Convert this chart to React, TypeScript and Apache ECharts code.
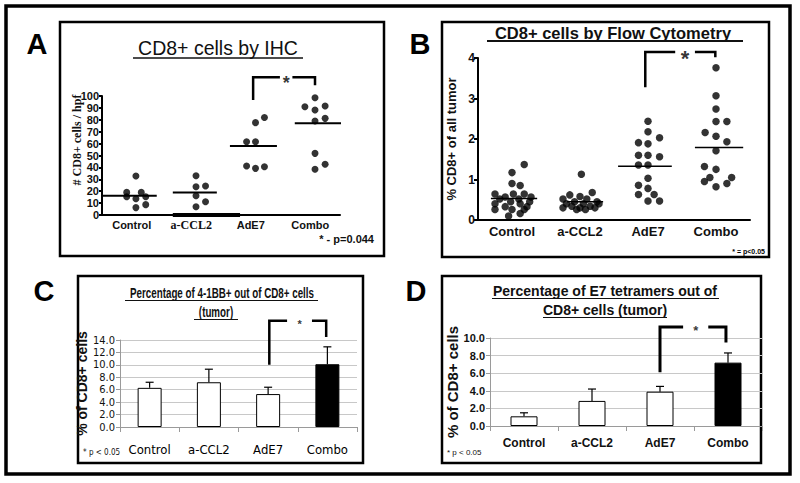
import React, { useEffect, useRef } from 'react';
import * as echarts from 'echarts';

// ---------- DATA ----------
const categories = ['Control', 'a-CCL2', 'AdE7', 'Combo'];

// Panel A: CD8+ cells by IHC — [horizontal jitter (category units), cells / hpf]
const ihcControl = [[0.07, 32.8], [-0.085, 19], [0.16, 19], [-0.085, 15.4], [0.07, 13.7], [0.235, 15.4], [0.07, 6.2], [0.235, 8.7]];
const ihcAntiCCL2 = [[0.08, 33], [0.08, 23.8], [0.24, 24.4], [0.08, 16.2], [0.24, 11.2], [0.08, 7]];
const ihcAdE7 = [[0.08, 77.6], [0.23, 82], [-0.07, 61.6], [0.08, 61.6], [-0.07, 41.2], [0.08, 39.2], [0.23, 40.6]];
const ihcCombo = [[0.08, 98.6], [-0.09, 91], [0.08, 88.2], [0.25, 91.6], [0.08, 79], [0.25, 81.2], [0.08, 51.8], [0.25, 42.6], [0.08, 38.4]];
const ihcMedians = [16.2, 19, 58, 77];
const ihcTicks = [0, 10, 20, 30, 40, 50, 60, 70, 80, 90, 100];
const ihcBracket = [96.6, 115.7, 109]; // AdE7 vs Combo: left foot, top, right foot

// Panel B: CD8+ cells by flow cytometry — [jitter, % of all tumor]
const flowControl = [[0.18, 1.37], [0.0, 1.17], [0.0, 0.9], [0.12, 0.85], [-0.25, 0.64], [0.02, 0.64], [0.18, 0.64], [-0.1, 0.57], [0.28, 0.57], [-0.18, 0.52], [0.1, 0.52], [-0.02, 0.45], [0.26, 0.45], [-0.25, 0.4], [0.12, 0.4], [-0.1, 0.33], [0.22, 0.33], [-0.25, 0.26], [0.0, 0.26], [0.18, 0.26], [0.12, 0.16], [-0.05, 0.1]];
const flowAntiCCL2 = [[0.02, 1.13], [0.18, 0.68], [-0.15, 0.62], [0.0, 0.58], [-0.25, 0.52], [0.1, 0.52], [-0.08, 0.45], [0.25, 0.45], [-0.2, 0.4], [0.05, 0.4], [0.28, 0.4], [-0.12, 0.34], [0.15, 0.34], [-0.25, 0.3], [0.0, 0.3], [0.22, 0.3], [-0.05, 0.26], [0.08, 0.26]];
const flowAdE7 = [[0.0, 2.44], [0.0, 2.18], [0.17, 2.03], [-0.14, 1.91], [0.0, 1.88], [-0.14, 1.6], [0.0, 1.6], [0.17, 1.56], [-0.14, 1.36], [0.0, 1.36], [0.0, 1.03], [-0.14, 0.86], [0.0, 0.78], [-0.14, 0.63], [0.09, 0.63], [0.0, 0.47], [0.17, 0.47]];
const flowCombo = [[0.0, 3.76], [0.0, 3.07], [0.0, 2.74], [0.0, 2.43], [0.16, 2.43], [-0.16, 2.16], [0.0, 2.07], [0.16, 1.93], [0.0, 1.71], [-0.17, 1.32], [0.0, 1.25], [-0.09, 1.05], [0.23, 1.05], [-0.17, 0.95], [0.16, 0.9], [0.0, 0.82]];
const flowMedians = [0.53, 0.45, 1.33, 1.79];
const flowTicks = [0, 1, 2, 3, 4];
const flowBracket = [3.28, 4.15, 4.02];

// Panel C: % 4-1BB+ of CD8+ cells (tumor)
const bbMeans = [6.3, 7.2, 5.3, 10.1];
const bbUpper = [7.2, 9.3, 6.4, 12.9];
const bbTicks = [0, 2, 4, 6, 8, 10, 12, 14];
const bbBracket = [10.0, 17.1, 14.5];

// Panel D: % E7 tetramer+ of CD8+ cells (tumor)
const e7Means = [1.1, 2.85, 3.9, 7.2];
const e7Upper = [1.5, 4.2, 4.5, 8.3];
const e7Ticks = [0, 2, 4, 6, 8, 10];
const e7Bracket = [6.1, 11.25, 9.5];

// ---------- STYLE ----------
const SANS = "'Liberation Sans', Arial, Helvetica, sans-serif";
const SERIF = "'Liberation Serif', 'Times New Roman', serif";
const NARROW = "'Liberation Sans Narrow', 'Arial Narrow', 'DejaVu Sans Condensed', sans-serif";
const IHC_MEDIAN_SPAN = [[-0.53, 0.42], [-0.31, 0.43], [-0.35, 0.44], [-0.26, 0.58]];
const FLOW_MEDIAN_SPAN = [[-0.31, 0.37], [-0.19, 0.34], [-0.44, 0.35], [-0.31, 0.4]];
const ZERO_RUN_SPAN = [0.69, 1.82];
const BAR_FILLS = ['#fff', '#fff', '#fff', '#000'];

function bracket(xi: number, yi: number, vals: number[], geom: number[], width: number, starSize: number) {
  const [lb, top, rb] = vals;
  const [xl, gl, gr, xr] = geom;
  const base: any = {
    type: 'line', xAxisIndex: xi, yAxisIndex: yi, symbol: 'none', clip: false, silent: true,
    lineStyle: { color: '#000', width, cap: 'butt', join: 'miter' }, z: 5,
  };
  return [
    { ...base, data: [[xl, lb], [xl, top], [gl, top]] },
    { ...base, data: [[gr, top], [xr, top], [xr, rb]] },
    {
      type: 'scatter', xAxisIndex: xi, yAxisIndex: yi, clip: false, silent: true, symbolSize: 1,
      itemStyle: { color: 'rgba(0,0,0,0)' }, data: [[(gl + gr) / 2, top]], z: 6,
      label: {
        show: true, position: 'inside', formatter: '*', fontSize: starSize, fontWeight: 'bold',
        fontFamily: SANS, color: '#000', offset: [0, starSize * 0.3],
      },
    },
  ];
}

function errorBars(xi: number, yi: number, means: number[], upper: number[], cap: number) {
  return {
    type: 'custom', xAxisIndex: xi, yAxisIndex: yi, silent: true, z: 4,
    data: means.map((m, i) => [i, m, upper[i]]),
    renderItem: (params: any, api: any) => {
      const x = api.value(0);
      const b = api.coord([x, api.value(1)]);
      const t = api.coord([x, api.value(2)]);
      const st = { stroke: '#000', lineWidth: 1.2 };
      return {
        type: 'group',
        children: [
          { type: 'line', shape: { x1: b[0], y1: b[1], x2: t[0], y2: t[1] }, style: st },
          { type: 'line', shape: { x1: t[0] - cap, y1: t[1], x2: t[0] + cap, y2: t[1] }, style: st },
        ],
      };
    },
  };
}

function dotSeries(xi: number, yi: number, groups: number[][][], size: number) {
  return {
    type: 'scatter', xAxisIndex: xi, yAxisIndex: yi, symbol: 'circle', symbolSize: size, silent: true,
    itemStyle: { color: '#000' },
    data: groups.flatMap((g, i) => g.map(([dx, v]) => [i + dx, v])),
  };
}

function medianSeries(xi: number, yi: number, medians: number[], spans: number[][], width: number) {
  return medians.map((m, i) => ({
    type: 'line', xAxisIndex: xi, yAxisIndex: yi, symbol: 'none', silent: true,
    lineStyle: { color: '#000', width },
    data: [[i + spans[i][0], m], [i + spans[i][1], m]],
  }));
}

const hiddenValueX = (gridIndex: number) => ({
  type: 'value', gridIndex, min: -0.5, max: 3.5, show: false, splitLine: { show: false },
  axisLine: { onZero: false },
});

export default function App() {
  const ref = useRef<HTMLDivElement>(null);
  useEffect(() => {
    document.body.style.margin = '0';
    const chart = echarts.init(ref.current!, undefined, { renderer: 'svg' });

    const blackAxis = { onZero: false, lineStyle: { color: '#000', width: 2 } };
    const grayAxis = { onZero: false, lineStyle: { color: '#9a9a9a', width: 1 } };

    const option: any = {
      animation: false,
      backgroundColor: '#fff',
      grid: [
        { left: 102, top: 96, width: 238, height: 119 },
        { left: 478, top: 58, width: 272, height: 162 },
        { left: 120, top: 340, width: 237, height: 87 },
        { left: 490, top: 338, width: 272, height: 88 },
      ],
      xAxis: [
        {
          type: 'category', gridIndex: 0,
          data: categories.map((c) => (c === 'a-CCL2' ? { value: c, textStyle: { fontFamily: SERIF, fontSize: 12 } } : c)),
          axisLine: blackAxis, axisTick: { show: false },
          axisLabel: { interval: 0, fontWeight: 'bold', fontSize: 11, fontFamily: SANS, color: '#111', margin: 4 },
        },
        hiddenValueX(0),
        {
          type: 'category', gridIndex: 1, data: categories,
          axisLine: blackAxis, axisTick: { show: false },
          axisLabel: { interval: 0, fontWeight: 'bold', fontSize: 13, fontFamily: SANS, color: '#111', margin: 5 },
        },
        hiddenValueX(1),
        {
          type: 'category', gridIndex: 2, data: categories,
          axisLine: grayAxis, axisTick: { show: true, length: 5, lineStyle: { color: '#9a9a9a' } },
          axisLabel: { interval: 0, fontSize: 13, fontFamily: NARROW, color: '#000', margin: 16 },
        },
        hiddenValueX(2),
        {
          type: 'category', gridIndex: 3, data: categories,
          axisLine: grayAxis, axisTick: { show: true, length: 5, lineStyle: { color: '#9a9a9a' } },
          axisLabel: { interval: 0, fontSize: 12, fontWeight: 'bold', fontFamily: SANS, color: '#111', margin: 11 },
        },
        hiddenValueX(3),
      ],
      yAxis: [
        {
          type: 'value', gridIndex: 0, min: ihcTicks[0], max: ihcTicks[ihcTicks.length - 1], interval: ihcTicks[1] - ihcTicks[0],
          axisLine: { show: true, ...blackAxis }, axisTick: { show: true, length: 3, lineStyle: { color: '#000', width: 2 } },
          splitLine: { show: false },
          axisLabel: { fontWeight: 'bold', fontSize: 11, fontFamily: SANS, color: '#111', margin: 3 },
        },
        {
          type: 'value', gridIndex: 1, min: flowTicks[0], max: flowTicks[flowTicks.length - 1], interval: flowTicks[1] - flowTicks[0],
          axisLine: { show: true, ...blackAxis }, axisTick: { show: true, length: 4, lineStyle: { color: '#000', width: 2 } },
          splitLine: { show: false },
          axisLabel: { fontWeight: 'bold', fontSize: 12, fontFamily: SANS, color: '#111', margin: 3 },
          name: '% CD8+ of all tumor', nameLocation: 'middle', nameRotate: 90, nameGap: 20,
          nameTextStyle: { fontWeight: 'bold', fontSize: 13, fontFamily: SANS, color: '#111' },
        },
        {
          type: 'value', gridIndex: 2, min: bbTicks[0], max: bbTicks[bbTicks.length - 1], interval: bbTicks[1] - bbTicks[0],
          axisLine: { show: true, ...grayAxis }, axisTick: { show: true, length: 4, lineStyle: { color: '#9a9a9a' } },
          splitLine: { show: true, lineStyle: { color: '#c8c8c8', width: 1 } },
          axisLabel: { fontSize: 11, fontFamily: NARROW, color: '#111', margin: 5, formatter: (v: number) => v.toFixed(1) },
          name: '% of CD8+ cells', nameLocation: 'middle', nameRotate: 90, nameGap: 22,
          nameTextStyle: { fontWeight: 'bold', fontSize: 14, fontFamily: SANS, color: '#111' },
        },
        {
          type: 'value', gridIndex: 3, min: e7Ticks[0], max: e7Ticks[e7Ticks.length - 1], interval: e7Ticks[1] - e7Ticks[0],
          axisLine: { show: true, ...grayAxis }, axisTick: { show: true, length: 4, lineStyle: { color: '#9a9a9a' } },
          splitLine: { show: true, lineStyle: { color: '#c8c8c8', width: 1 } },
          axisLabel: { fontSize: 11, fontWeight: 'bold', fontFamily: SANS, color: '#111', margin: 5, formatter: (v: number) => v.toFixed(1) },
          name: '% of CD8+ cells', nameLocation: 'middle', nameRotate: 90, nameGap: 30,
          nameTextStyle: { fontWeight: 'bold', fontSize: 15, fontFamily: SANS, color: '#111' },
        },
      ],
      series: [
        // Panel A
        {
          type: 'line', xAxisIndex: 1, yAxisIndex: 0, symbol: 'none', silent: true, z: 3,
          lineStyle: { color: '#000', width: 4 },
          data: [[ZERO_RUN_SPAN[0], 0], [ZERO_RUN_SPAN[1], 0]],
        },
        dotSeries(1, 0, [ihcControl, ihcAntiCCL2, ihcAdE7, ihcCombo], 7),
        ...medianSeries(1, 0, ihcMedians, IHC_MEDIAN_SPAN, 2),
        ...bracket(1, 0, ihcBracket, [2.04, 2.49, 2.7, 3.08], 2.5, 18),
        // Panel B
        dotSeries(3, 1, [flowControl, flowAntiCCL2, flowAdE7, flowCombo], 7.5),
        ...medianSeries(3, 1, flowMedians, FLOW_MEDIAN_SPAN, 1.5),
        ...bracket(3, 1, flowBracket, [1.96, 2.4, 2.69, 2.99], 2.5, 22),
        // Panel C
        {
          type: 'bar', xAxisIndex: 4, yAxisIndex: 2, barWidth: 24, silent: true,
          data: bbMeans.map((v, i) => ({ value: v, itemStyle: { color: BAR_FILLS[i], borderColor: '#000', borderWidth: 1 } })),
        },
        errorBars(4, 2, bbMeans, bbUpper, 4),
        ...bracket(5, 2, bbBracket, [2.02, 2.32, 2.74, 2.98], 2.5, 11),
        // Panel D
        {
          type: 'bar', xAxisIndex: 6, yAxisIndex: 3, barWidth: 27, silent: true,
          data: e7Means.map((v, i) => ({ value: v, itemStyle: { color: BAR_FILLS[i], borderColor: '#000', borderWidth: 1 } })),
        },
        errorBars(6, 3, e7Means, e7Upper, 4),
        ...bracket(7, 3, e7Bracket, [2.0, 2.34, 2.71, 2.97], 3, 13),
      ],
      graphic: [
        // frames
        { type: 'rect', shape: { x: 6, y: 6, width: 784, height: 468 }, style: { fill: 'none', stroke: '#000', lineWidth: 3.5 } },
        { type: 'rect', shape: { x: 60, y: 22, width: 324, height: 234 }, style: { fill: 'none', stroke: '#000', lineWidth: 2.5 } },
        { type: 'rect', shape: { x: 442, y: 22, width: 327, height: 235 }, style: { fill: 'none', stroke: '#000', lineWidth: 2.5 } },
        { type: 'rect', shape: { x: 78, y: 276, width: 285, height: 187 }, style: { fill: 'none', stroke: '#000', lineWidth: 2.5 } },
        { type: 'rect', shape: { x: 442, y: 276, width: 319, height: 187 }, style: { fill: 'none', stroke: '#000', lineWidth: 2.5 } },
        // panel letters
        ...[['A', 37, 44], ['B', 420, 44], ['C', 44, 291], ['D', 416, 291]].map(([t, x, y]) => ({
          type: 'text', x, y,
          style: { text: t, fontSize: 29, fontWeight: 'bold', fontFamily: SANS, fill: '#000', align: 'center', verticalAlign: 'middle' },
        })),
        // Panel A title
        { type: 'text', x: 218, y: 48, style: { text: 'CD8+ cells by IHC', fontSize: 19.5, fontFamily: SANS, fill: '#111', align: 'center', verticalAlign: 'middle' } },
        { type: 'line', shape: { x1: 133, y1: 58, x2: 303, y2: 58 }, style: { stroke: '#111', lineWidth: 1.5 } },
        {
          type: 'text', x: 77, y: 140, rotation: Math.PI / 2,
          style: { text: '# CD8+ cells / hpf', fontSize: 12, fontWeight: 'bold', fontFamily: SERIF, fill: '#111', align: 'center', verticalAlign: 'middle' },
        },
        { type: 'text', x: 374, y: 239, style: { text: '* - p=0.044', fontSize: 11, fontWeight: 'bold', fontFamily: SANS, fill: '#111', align: 'right', verticalAlign: 'middle' } },
        // Panel B title
        { type: 'text', x: 613, y: 33, style: { text: 'CD8+ cells by Flow Cytometry', fontSize: 16.5, fontWeight: 'bold', fontFamily: SANS, fill: '#111', align: 'center', verticalAlign: 'middle' } },
        { type: 'line', shape: { x1: 487, y1: 41, x2: 743, y2: 41 }, style: { stroke: '#111', lineWidth: 1.8 } },
        { type: 'text', x: 765, y: 251, style: { text: '* = p<0.05', fontSize: 7, fontWeight: 'bold', fontFamily: SANS, fill: '#000', align: 'right', verticalAlign: 'middle' } },
        // Panel C title (condensed)
        {
          type: 'text', x: 222, y: 293, scaleX: 0.7, scaleY: 1,
          style: { text: 'Percentage of 4-1BB+ out of CD8+ cells', fontSize: 14, fontWeight: 'bold', fontFamily: SANS, fill: '#111', align: 'center', verticalAlign: 'middle' },
        },
        { type: 'line', shape: { x1: 125, y1: 300.5, x2: 318, y2: 300.5 }, style: { stroke: '#111', lineWidth: 1.2 } },
        {
          type: 'text', x: 216, y: 312, scaleX: 0.7, scaleY: 1,
          style: { text: '(tumor)', fontSize: 14, fontWeight: 'bold', fontFamily: SANS, fill: '#111', align: 'center', verticalAlign: 'middle' },
        },
        { type: 'line', shape: { x1: 194, y1: 319.5, x2: 238, y2: 319.5 }, style: { stroke: '#111', lineWidth: 1.2 } },
        { type: 'text', x: 83, y: 452, style: { text: '* p < 0.05', fontSize: 8, fontFamily: NARROW, fill: '#111', align: 'left', verticalAlign: 'middle' } },
        // Panel D title
        { type: 'text', x: 605, y: 291, style: { text: 'Percentage of E7 tetramers out of', fontSize: 14, fontWeight: 'bold', fontFamily: SANS, fill: '#111', align: 'center', verticalAlign: 'middle' } },
        { type: 'line', shape: { x1: 492, y1: 298.5, x2: 719, y2: 298.5 }, style: { stroke: '#111', lineWidth: 1.2 } },
        { type: 'text', x: 605, y: 310, style: { text: 'CD8+ cells (tumor)', fontSize: 14, fontWeight: 'bold', fontFamily: SANS, fill: '#111', align: 'center', verticalAlign: 'middle' } },
        { type: 'line', shape: { x1: 543, y1: 317.5, x2: 667, y2: 317.5 }, style: { stroke: '#111', lineWidth: 1.2 } },
        { type: 'text', x: 447, y: 452, style: { text: '* p < 0.05', fontSize: 8, fontFamily: SANS, fill: '#111', align: 'left', verticalAlign: 'middle' } },
      ],
    };

    chart.setOption(option);
    return () => chart.dispose();
  }, []);

  return <div ref={ref} style={{ width: 800, height: 483 }} />;
}
